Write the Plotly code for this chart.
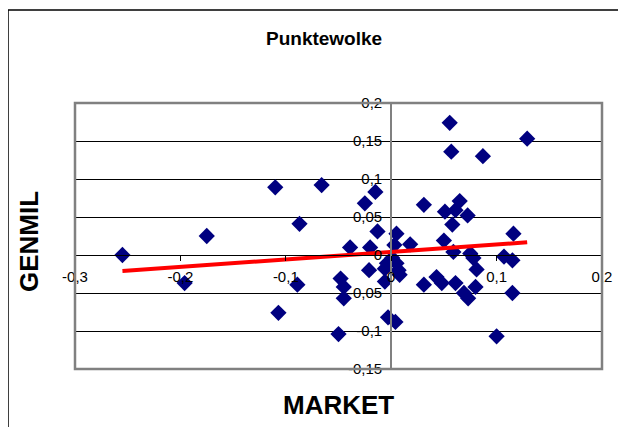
import plotly.graph_objects as go

# ---- data ----
market = [-0.255, -0.196, -0.175, -0.110, -0.107, -0.089, -0.087, -0.066, -0.050, -0.048,
          -0.045, -0.045, -0.039, -0.025, -0.021, -0.020, -0.015, -0.013, -0.006, -0.006,
          -0.004, -0.003, 0.001, 0.003, 0.005, 0.005, 0.004, 0.007, 0.008, 0.018,
          0.031, 0.031, 0.043, 0.048, 0.050, 0.051, 0.0555, 0.057, 0.058, 0.059,
          0.061, 0.061, 0.065, 0.069, 0.073, 0.0725, 0.075, 0.078, 0.080, 0.081,
          0.087, 0.100, 0.107, 0.115, 0.115, 0.116, 0.129]
genmil = [0.000, -0.037, 0.025, 0.089, -0.076, -0.039, 0.041, 0.092, -0.104, -0.031,
          -0.042, -0.057, 0.010, 0.068, -0.020, 0.010, 0.083, 0.031, -0.018, -0.035,
          -0.011, -0.082, -0.004, 0.013, 0.028, -0.011, -0.088, -0.020, -0.026, 0.014,
          0.066, -0.039, -0.029, -0.037, 0.019, 0.057, 0.174, 0.136, 0.040, 0.004,
          0.059, -0.037, 0.071, -0.050, -0.057, 0.052, 0.002, -0.004, -0.042, -0.019,
          0.130, -0.107, -0.002, -0.007, -0.050, 0.028, 0.153]

trend_slope = 0.098
trend_intercept = 0.004

x_range = [-0.3, 0.2]
y_range = [-0.15, 0.2]
x_tickvals = [-0.3, -0.2, -0.1, 0.0, 0.1, 0.2]
x_ticktext = ["-0,3", "-0,2", "-0,1", "0", "0,1", "0,2"]
y_tickvals = [-0.15, -0.1, -0.05, 0.0, 0.05, 0.1, 0.15, 0.2]
y_ticktext = ["-0,15", "-0,1", "-0,05", "0", "0,05", "0,1", "0,15", "0,2"]

title_text = "Punktewolke"
x_title = "MARKET"
y_title = "GENMIL"

# ---- figure ----
tx = [min(market), max(market)]
ty = [trend_slope * v + trend_intercept for v in tx]

fig = go.Figure()
fig.add_trace(go.Scatter(
    x=market, y=genmil, mode="markers",
    marker=dict(symbol="diamond", size=12.5, color="#000080", line=dict(width=0)),
    showlegend=False, hoverinfo="skip"))
fig.add_trace(go.Scatter(
    x=tx, y=ty, mode="lines",
    line=dict(color="#FF0000", width=4),
    showlegend=False, hoverinfo="skip"))

x_pos = (0 - y_range[0]) / (y_range[1] - y_range[0])
y_pos = (0 - x_range[0]) / (x_range[1] - x_range[0])

font = "Arial, Liberation Sans, sans-serif"
# page body has an 8px margin, so the figure is 8px smaller and margins shifted
fig.update_layout(
    width=618, height=419,
    margin=dict(l=67, r=24, t=95, b=58),
    paper_bgcolor="white", plot_bgcolor="white",
    font=dict(family=font, size=15, color="black"),
    xaxis=dict(range=x_range, anchor="free", position=x_pos,
               tickvals=x_tickvals, ticktext=x_ticktext,
               showgrid=False, zeroline=False,
               showline=True, linecolor="black", linewidth=1,
               ticks="outside", ticklen=5, tickcolor="black",
               ticklabelstandoff=3,
               tickfont=dict(size=15, family=font)),
    yaxis=dict(range=y_range, anchor="free", position=y_pos,
               tickvals=y_tickvals, ticktext=y_ticktext,
               showgrid=True, gridcolor="black", gridwidth=1, zeroline=False,
               showline=True, linecolor="#808080", linewidth=2,
               ticks="outside", ticklen=5, tickcolor="black",
               tickfont=dict(size=15, family=font)),
    shapes=[
        dict(type="rect", xref="paper", yref="paper", x0=0, x1=1, y0=0, y1=1,
             line=dict(color="#808080", width=2.5), layer="above"),
        dict(type="rect", xref="paper", yref="paper",
             x0=(8 - 75) / 527, x1=2.0, y0=-1.0, y1=(369 - 10) / 266,
             line=dict(color="black", width=1.5), layer="above"),
    ],
    annotations=[
        dict(text="<b>" + title_text + "</b>", xref="paper", yref="paper",
             x=(324 - 75) / 527, y=(369 - 38) / 266, showarrow=False,
             xanchor="center", yanchor="middle", font=dict(size=19, family=font)),
        dict(text="<b>" + x_title + "</b>", xref="paper", yref="paper",
             x=0.5, y=(369 - 405) / 266, showarrow=False,
             xanchor="center", yanchor="middle", font=dict(size=26, family=font)),
        dict(text="<b>" + y_title + "</b>", xref="paper", yref="paper",
             x=(29 - 75) / 527, y=(369 - 242) / 266, showarrow=False, textangle=-90,
             xanchor="center", yanchor="middle", font=dict(size=26, family=font)),
    ],
)

fig.write_html("out.html")
